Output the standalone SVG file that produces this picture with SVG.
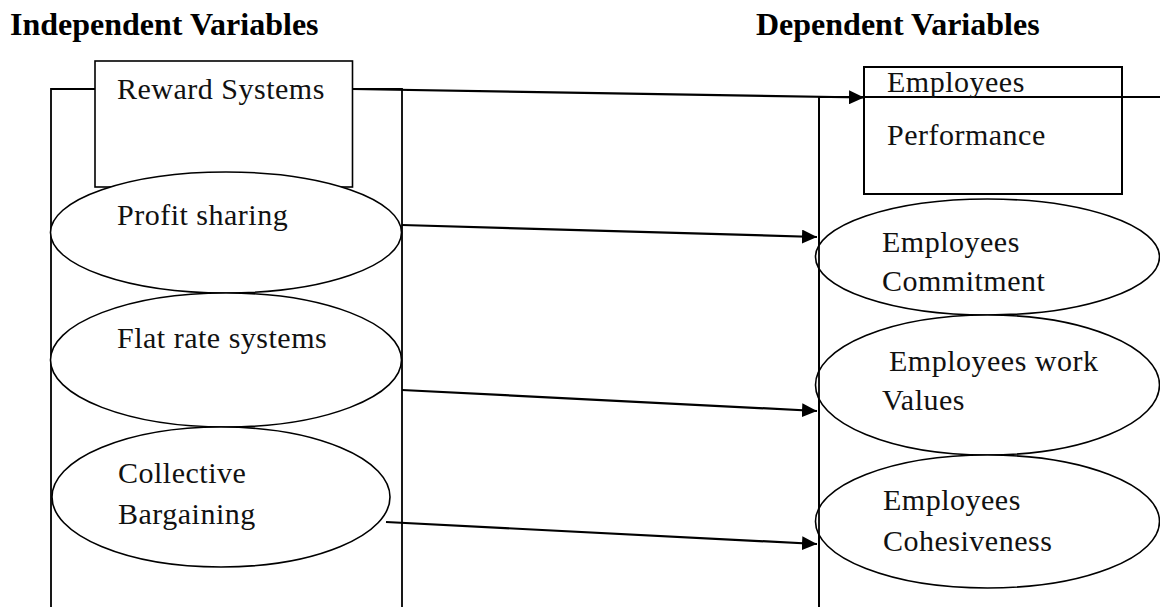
<svg xmlns="http://www.w3.org/2000/svg" width="1160" height="607" viewBox="0 0 1160 607">
<defs>
<marker id="ah" markerUnits="userSpaceOnUse" markerWidth="16" markerHeight="14" refX="15" refY="7" orient="auto">
<path d="M0,0 L15,7 L0,14 z" fill="#000"/>
</marker>
<style>
.hd{font-family:"Liberation Serif",serif;font-weight:bold;font-size:32px;fill:#000}
.t{font-family:"Liberation Serif",serif;font-size:30px;letter-spacing:0.5px;fill:#111}
.sh{fill:#fff;stroke:#000;stroke-width:1.6}
.fr{fill:none;stroke:#000;stroke-width:1.8}
.cn{fill:none;stroke:#000;stroke-width:2.2;marker-end:url(#ah)}
</style>
</defs>
<rect width="1160" height="607" fill="#fff"/>
<text class="hd" x="10" y="35">Independent Variables</text>
<text class="hd" x="756" y="35">Dependent Variables</text>

<g id="left-frame"><path class="fr" d="M51 607 V89 H402 V607"/></g>
<g id="right-frame"><path class="fr" d="M819 607 V97 H1160"/></g>

<g id="reward-systems">
<rect class="sh" x="95" y="61" width="257.5" height="126"/>
<text class="t" x="117" y="99">Reward Systems</text>
</g>
<g id="profit-sharing">
<ellipse class="sh" cx="226" cy="232.5" rx="175.5" ry="60.5"/>
<text class="t" x="117" y="225">Profit sharing</text>
</g>
<g id="flat-rate">
<ellipse class="sh" cx="226" cy="360" rx="175.5" ry="67"/>
<text class="t" x="117" y="348">Flat rate systems</text>
</g>
<g id="collective-bargaining">
<ellipse class="sh" cx="221" cy="497" rx="169" ry="70"/>
<text class="t" x="118" y="483">Collective</text>
<text class="t" x="118" y="524">Bargaining</text>
</g>

<g id="employees-performance">
<rect x="864" y="67" width="258" height="127" fill="none" stroke="#000" stroke-width="2"/>
<text class="t" x="887" y="92">Employees</text>
<text class="t" x="887" y="145">Performance</text>
</g>
<g id="employees-commitment">
<ellipse class="sh" cx="987.5" cy="257" rx="172" ry="58"/>
<text class="t" x="882" y="252">Employees</text>
<text class="t" x="882" y="291">Commitment</text>
</g>
<g id="employees-work-values">
<ellipse class="sh" cx="987.5" cy="385" rx="172" ry="70"/>
<text class="t" x="889" y="371">Employees work</text>
<text class="t" x="882" y="410">Values</text>
</g>
<g id="employees-cohesiveness">
<ellipse class="sh" cx="987.5" cy="521.5" rx="172" ry="66.5"/>
<text class="t" x="883" y="510">Employees</text>
<text class="t" x="883" y="551">Cohesiveness</text>
</g>
<path d="M819 607 V97" fill="none" stroke="#000" stroke-width="1.8"/>

<g id="connectors">
<line class="cn" x1="352" y1="89" x2="864" y2="97.5"/>
<line class="cn" x1="402" y1="225" x2="817" y2="237"/>
<line class="cn" x1="402" y1="390" x2="817" y2="411"/>
<line class="cn" x1="386" y1="522" x2="817" y2="544"/>
</g>
</svg>
